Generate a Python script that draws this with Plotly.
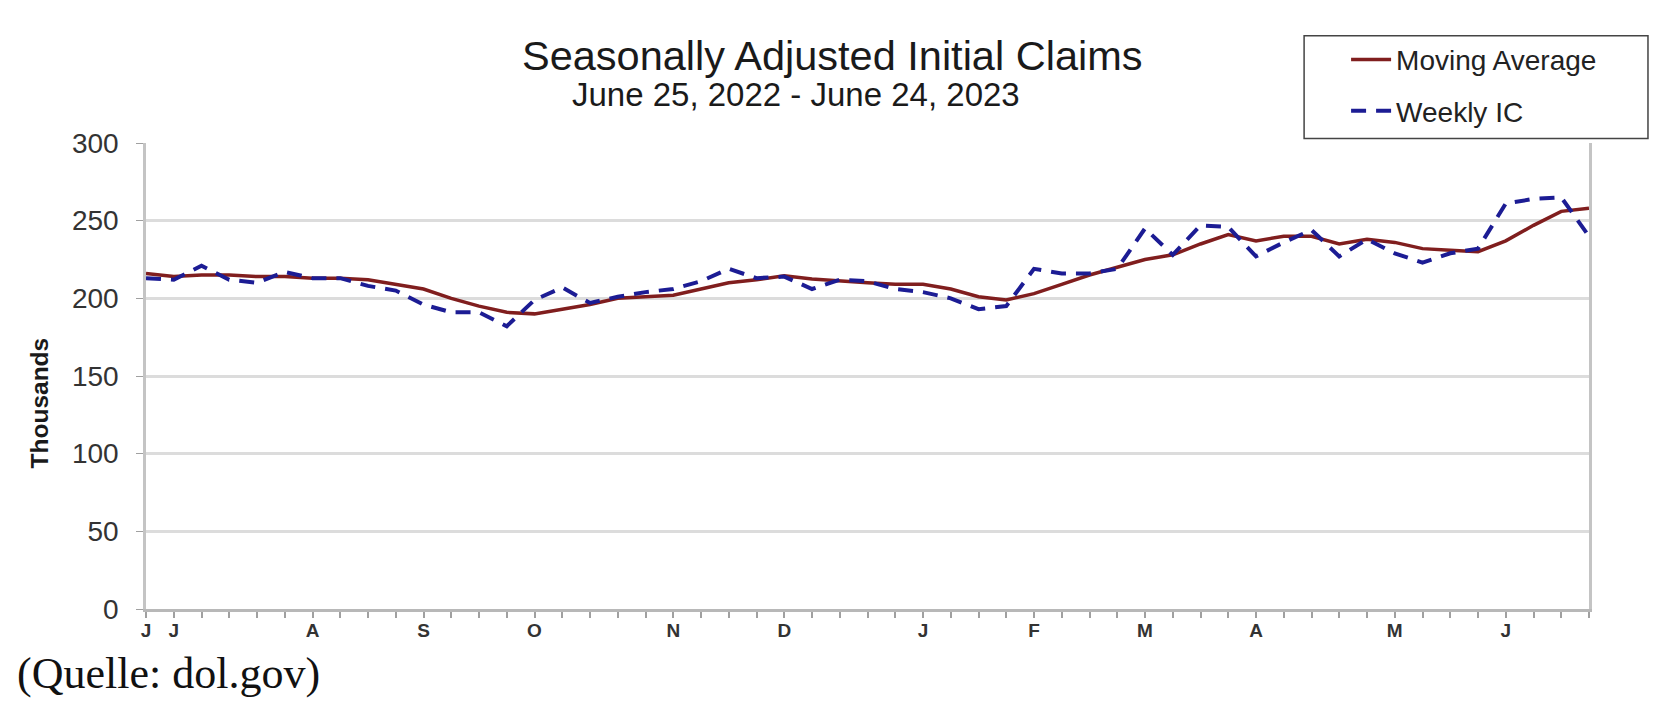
import pandas as pd
import plotly.graph_objects as go

# Weeks ending June 25, 2022 ... June 24, 2023
weeks = list(pd.date_range("2022-06-25", "2023-06-24", freq="7D").strftime("%Y-%m-%d"))

tick_labels = ["J", "J", "", "", "", "", "A", "", "", "", "S", "", "", "", "O", "", "", "", "",
               "N", "", "", "", "D", "", "", "", "", "J", "", "", "", "F", "", "", "", "M",
               "", "", "", "A", "", "", "", "", "M", "", "", "", "J", "", "", ""]

weekly_ic = [213, 212, 221, 212, 210, 217, 213, 213, 208, 205, 196, 191, 191, 182, 199,
             207, 197, 201, 204, 206, 211, 219, 213, 214, 206, 212, 211, 206, 204, 200,
             193, 195, 219, 216, 216, 219, 245, 228, 247, 246, 227, 236, 244, 227, 238,
             229, 223, 229, 232, 261, 264, 265, 240]

moving_avg = [216, 214, 215, 215, 214, 214, 213, 213, 212, 209, 206, 200, 195, 191, 190,
              193, 196, 200, 201, 202, 206, 210, 212, 214.5, 212.5, 211, 210, 209, 209, 206,
              201, 199, 203, 209, 215, 220, 225, 228, 235, 241, 237, 240, 240, 235, 238,
              236, 232, 231, 230, 237, 247, 256, 258]

y_ticks = [0, 50, 100, 150, 200, 250, 300]

W, H = 1668, 718
L, R, T, B = 137.5, 1581, 134.5, 601.5

fig = go.Figure()
fig.add_trace(go.Scatter(
    x=weeks, y=moving_avg, name="Moving Average", mode="lines",
    line=dict(color="#801e1e", width=3.5), legendgroup="ma"))
fig.add_trace(go.Scatter(
    x=weeks, y=weekly_ic, name="Weekly IC", mode="lines",
    line=dict(color="#1c1c94", width=4, dash="15px,10px"), legendgroup="ic"))

pw, ph = R - L, B - T
def px(x):
    return (x - L) / pw
def py(y):
    return (B - y) / ph

fig.update_layout(
    width=W, height=H,
    margin=dict(l=L, r=W - R, t=T, b=H - B, pad=0),
    paper_bgcolor="white", plot_bgcolor="white",
    font=dict(family="Liberation Sans, Arial, sans-serif", color="#222222"),
    showlegend=True,
    legend=dict(x=px(1338), y=py(26), xanchor="left", yanchor="top",
                bgcolor="rgba(0,0,0,0)", borderwidth=0,
                font=dict(size=28, color="#222222"),
                traceorder="grouped", tracegroupgap=12, itemwidth=40),
    shapes=[dict(type="rect", xref="paper", yref="paper",
                 x0=px(1296), x1=px(1640), y0=py(130), y1=py(27),
                 line=dict(color="#444444", width=1.5), fillcolor="rgba(0,0,0,0)")],
    annotations=[
        dict(text="Seasonally Adjusted Initial Claims", xref="paper", yref="paper",
             x=px(824.5), y=py(47), showarrow=False, xanchor="center", yanchor="middle",
             font=dict(size=41.5, color="#1a1a1a")),
        dict(text="June 25, 2022 - June 24, 2023", xref="paper", yref="paper",
             x=px(787.5), y=py(85.5), showarrow=False, xanchor="center", yanchor="middle",
             font=dict(size=33, color="#1a1a1a")),
        dict(text="<b>Thousands</b>", xref="paper", yref="paper",
             x=px(30.5), y=py(395.5), showarrow=False, xanchor="center", yanchor="middle",
             textangle=-90, font=dict(size=24.5, color="#1a1a1a")),
        dict(text="(Quelle: dol.gov)", xref="paper", yref="paper",
             x=px(6.5), y=py(666), showarrow=False, xanchor="left", yanchor="middle",
             font=dict(family="Liberation Serif, Times New Roman, serif", size=44, color="#111111")),
    ],
)

fig.update_xaxes(
    type="date", range=[weeks[0], weeks[-1]],
    tickmode="array", tickvals=weeks, ticktext=[f"<b>{t}</b>" if t else "" for t in tick_labels],
    tickangle=0,
    ticks="outside", ticklen=6, tickcolor="#a0a0a0", tickwidth=1.5,
    ticklabelstandoff=-4,
    tickfont=dict(size=19, color="#333333"),
    showgrid=False, zeroline=False,
    showline=True, linecolor="#b8b8b8", linewidth=2.5,
)
fig.update_yaxes(
    range=[0, 300], tickmode="array", tickvals=y_ticks,
    ticks="outside", ticklen=7, tickcolor="#a0a0a0", ticklabelstandoff=12,
    tickfont=dict(size=28, color="#333333"),
    showgrid=True, gridcolor="#dcdcdc", gridwidth=2.5,
    zeroline=False, showline=True, mirror=True, linecolor="#c4c4c4", linewidth=2.5,
)

fig.write_html("out.html")
